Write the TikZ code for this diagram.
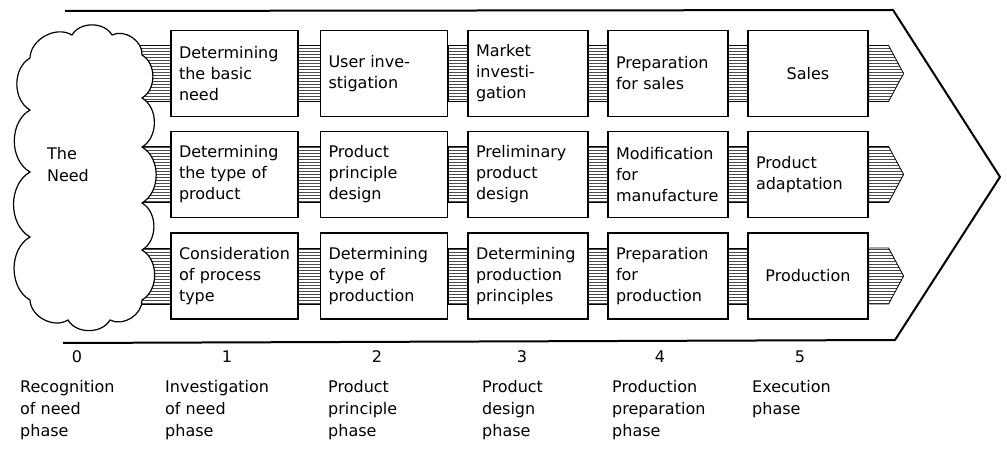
\documentclass[tikz,border=0pt]{standalone}
\usepackage{fontspec}
\setmainfont{DejaVu Sans}
\usetikzlibrary{patterns,backgrounds}
\tikzset{
stage/.style={draw,line width=1.2pt,fill=white,minimum height=86pt,inner xsep=8pt,align=left,font=\fontsize{16}{21}\selectfont},
stagewide/.style={stage,text width=111pt},
stagenarrow/.style={stage,text width=104pt},
band/.style={draw,line width=0.8pt,pattern=horizontal lines,pattern color=black!70},
puff/.style={bend left=60},
phase/.style={anchor=north west,inner sep=0pt,align=left,font=\fontsize{16}{22}\selectfont},
phasenum/.style={inner sep=0pt,font=\fontsize{16}{18}\selectfont}
}
\begin{document}
\begin{tikzpicture}[x=1pt,y=-1pt]
\pgfmathsetmacro{\kbh}{28}
\pgfmathsetmacro{\kal}{20}
\pgfmathsetmacro{\kat}{15}
\useasboundingbox(0,0)rectangle(1007,457);
\draw[line width=2pt,line join=round](65,11)--(893,10)--(1000,177)--(895,340)--(63,343);
\draw[line width=1.2pt,fill=white](30,58)to[puff](72,35)to[puff](112,35)to[puff](142,55)to[puff](142,98)to[puff](142,147)
to[puff](142,203)to[puff](142,250)to[puff](142,300)to[puff](110,320)to[puff](68,320)to[puff](30,300)
to[puff](30,237)to[puff](30,172)to[puff](30,110)to[puff](30,58)--cycle;
\node[align=left,font=\fontsize{16}{22}\selectfont](need)at(68,165){The\\Need};
\coordinate(cloudedge)at(130,177);
\node[stagewide](b11)at(234.5,73.5){Determining\\the basic\\need};
\node[stagewide](b12)at(384,73.5){User inve-\\stigation};
\node[stagenarrow](b13)at(528,73.5){Market\\investi-\\gation};
\node[stagenarrow](b14)at(668,73.5){Preparation\\for sales};
\node[stagenarrow,align=center](b15)at(808,73.5){Sales};
\node[stagewide](b21)at(234.5,174.5){Determining\\the type of\\product};
\node[stagewide](b22)at(384,174.5){Product\\principle\\design};
\node[stagenarrow](b23)at(528,174.5){Preliminary\\product\\design};
\node[stagenarrow](b24)at(668,174.5){Modification\\for\\manufacture};
\node[stagenarrow](b25)at(808,174.5){Product\\adaptation};
\node[stagewide](b31)at(234.5,276){Consideration\\of process\\type};
\node[stagewide](b32)at(384,276){Determining\\type of\\production};
\node[stagenarrow](b33)at(528,276){Determining\\production\\principles};
\node[stagenarrow](b34)at(668,276){Preparation\\for\\production};
\node[stagenarrow,align=center](b35)at(808,276){Production};
\path(cloudedge|-b11.west)coordinate(e1)(cloudedge|-b21.west)coordinate(e2)(cloudedge|-b31.west)coordinate(e3);
\begin{scope}[on background layer]
\draw[band]([yshift=\kbh pt]e1)rectangle([yshift=-\kbh pt]b11.west);
\draw[band]([yshift=\kbh pt]e2)rectangle([yshift=-\kbh pt]b21.west);
\draw[band]([yshift=\kbh pt]e3)rectangle([yshift=-\kbh pt]b31.west);
\draw[band]([yshift=\kbh pt]b11.east)rectangle([yshift=-\kbh pt]b12.west);
\draw[band]([yshift=\kbh pt]b12.east)rectangle([yshift=-\kbh pt]b13.west);
\draw[band]([yshift=\kbh pt]b13.east)rectangle([yshift=-\kbh pt]b14.west);
\draw[band]([yshift=\kbh pt]b14.east)rectangle([yshift=-\kbh pt]b15.west);
\draw[band]([yshift=\kbh pt]b21.east)rectangle([yshift=-\kbh pt]b22.west);
\draw[band]([yshift=\kbh pt]b22.east)rectangle([yshift=-\kbh pt]b23.west);
\draw[band]([yshift=\kbh pt]b23.east)rectangle([yshift=-\kbh pt]b24.west);
\draw[band]([yshift=\kbh pt]b24.east)rectangle([yshift=-\kbh pt]b25.west);
\draw[band]([yshift=\kbh pt]b31.east)rectangle([yshift=-\kbh pt]b32.west);
\draw[band]([yshift=\kbh pt]b32.east)rectangle([yshift=-\kbh pt]b33.west);
\draw[band]([yshift=\kbh pt]b33.east)rectangle([yshift=-\kbh pt]b34.west);
\draw[band]([yshift=\kbh pt]b34.east)rectangle([yshift=-\kbh pt]b35.west);
\draw[band]([yshift=\kbh pt]b15.east)--++(\kal,0)--++(\kat,\kbh)--++(-\kat,\kbh)--++(-\kal,0)--cycle;
\draw[band]([yshift=\kbh pt]b25.east)--++(\kal,0)--++(\kat,\kbh)--++(-\kat,\kbh)--++(-\kal,0)--cycle;
\draw[band]([yshift=\kbh pt]b35.east)--++(\kal,0)--++(\kat,\kbh)--++(-\kat,\kbh)--++(-\kal,0)--cycle;
\end{scope}
\node[phasenum](n0)at(77,357){0};
\node[phasenum](n1)at(227,357){1};
\node[phasenum](n2)at(377,357){2};
\node[phasenum](n3)at(522,357){3};
\node[phasenum](n4)at(660,357){4};
\node[phasenum](n5)at(800,357){5};
\node[phase](p0)at(20,380){Recognition\\of need\\phase};
\node[phase](p1)at(165,380){Investigation\\of need\\phase};
\node[phase](p2)at(328,380){Product\\principle\\phase};
\node[phase](p3)at(482,380){Product\\design\\phase};
\node[phase](p4)at(612,380){Production\\preparation\\phase};
\node[phase](p5)at(752,380){Execution\\phase};
\end{tikzpicture}
\end{document}
